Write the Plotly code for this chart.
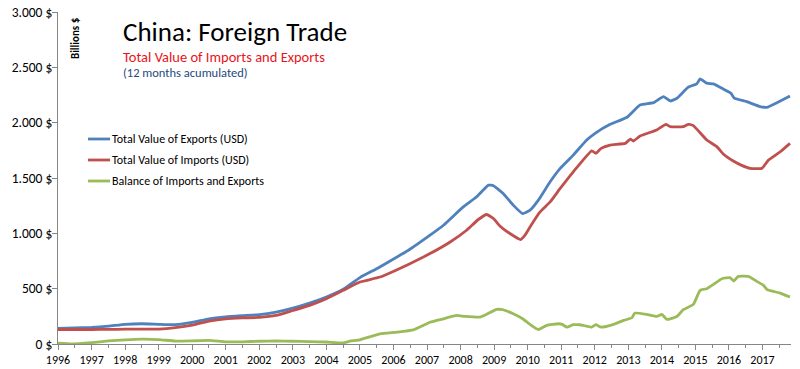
import plotly.graph_objects as go

# ---- data (billions USD, 12-month accumulated), x in decimal years ----
exp_t = [1996.0, 1996.5, 1997.0, 1997.5, 1998.0, 1998.5, 1999.0, 1999.5, 2000.0, 2000.5,
         2001.0, 2001.5, 2002.0, 2002.5, 2003.0, 2003.5, 2004.0, 2004.5, 2005.0, 2005.5,
         2005.85, 2006.49, 2007.09, 2007.49, 2008.08, 2008.48, 2008.83, 2008.98, 2009.27,
         2009.57, 2009.85, 2010.07, 2010.32, 2010.67, 2010.97, 2011.36, 2011.76, 2012.01,
         2012.46, 2012.96, 2013.35, 2013.75, 2014.05, 2014.25, 2014.45, 2014.79, 2015.04,
         2015.14, 2015.34, 2015.54, 2015.84, 2016.06, 2016.16, 2016.53, 2016.93, 2017.13,
         2017.43, 2017.82]
exports = [142, 145, 150, 161, 178, 183, 178, 175, 195, 228,
           246, 256, 265, 288, 324, 370, 424, 494, 600, 680,
           741, 856, 983, 1073, 1239, 1330, 1436, 1430, 1360,
           1255, 1179, 1209, 1300, 1466, 1587, 1707, 1843, 1904,
           1985, 2049, 2160, 2181, 2236, 2196, 2221, 2321, 2350,
           2396, 2357, 2350, 2302, 2266, 2221, 2190, 2145, 2139,
           2181, 2242]

imp_t = [1996.0, 1996.5, 1997.0, 1997.5, 1998.0, 1998.5, 1999.0, 1999.5, 2000.0, 2000.5,
         2001.0, 2001.5, 2002.0, 2002.5, 2003.0, 2003.5, 2004.0, 2004.5, 2005.0, 2005.6,
         2006.49, 2007.09, 2007.69, 2008.18, 2008.53, 2008.78, 2008.98, 2009.18, 2009.47,
         2009.79, 2009.92, 2010.07, 2010.37, 2010.67, 2010.97, 2011.36, 2011.91, 2012.03,
         2012.19, 2012.46, 2012.91, 2013.06, 2013.15, 2013.35, 2013.85, 2014.12, 2014.25,
         2014.64, 2014.79, 2014.94, 2015.34, 2015.64, 2015.84, 2016.13, 2016.38, 2016.63,
         2016.98, 2017.18, 2017.53, 2017.82]
imports = [131, 131, 131, 132, 134, 134, 134, 147, 170, 207,
           228, 236, 240, 258, 303, 349, 409, 485, 560, 605,
           726, 817, 922, 1028, 1125, 1170, 1134, 1064, 998,
           944, 983, 1058, 1194, 1284, 1406, 1556, 1746, 1723,
           1768, 1798, 1813, 1852, 1834, 1880, 1934, 1985, 1964,
           1964, 1985, 1973, 1843, 1783, 1714, 1653, 1614, 1587,
           1587, 1662, 1737, 1813]

bal_t = [1996.0, 1996.4, 1997.0, 1997.5, 1998.0, 1998.5, 1999.0, 1999.5, 2000.0, 2000.5,
         2001.0, 2001.5, 2002.0, 2002.5, 2003.0, 2003.5, 2004.0, 2004.5, 2004.7, 2005.0,
         2005.6, 2006.1, 2006.59, 2007.09, 2007.49, 2007.88, 2008.13, 2008.58, 2008.75,
         2009.08, 2009.25, 2009.57, 2009.85, 2010.07, 2010.32, 2010.57, 2010.92, 2011.03,
         2011.17, 2011.36, 2011.56, 2011.66, 2011.91, 2012.03, 2012.19, 2012.56, 2012.86,
         2013.11, 2013.19, 2013.55, 2013.85, 2014.0, 2014.15, 2014.45, 2014.64, 2014.94,
         2015.14, 2015.34, 2015.54, 2015.79, 2016.04, 2016.14, 2016.28, 2016.58, 2016.83,
         2017.03, 2017.14, 2017.53, 2017.82]
balance = [7, 0, 12, 28, 38, 44, 40, 26, 28, 32,
           20, 20, 25, 28, 25, 22, 18, 10, 25, 38,
           92, 107, 128, 197, 228, 258, 249, 243, 264,
           312, 310, 273, 228, 177, 131, 168, 183, 177,
           152, 174, 174, 168, 152, 174, 152, 177, 213,
           237, 279, 267, 249, 267, 222, 249, 310, 358,
           485, 500, 539, 590, 599, 569, 611, 611, 566,
           530, 491, 460, 424]

names = ["Total Value of Exports (USD)", "Total Value of Imports (USD)",
         "Balance of Imports and Exports"]
colors = ["#4F81BD", "#C0504D", "#9BBB59"]

y_tickvals = [0, 500, 1000, 1500, 2000, 2500, 3000]
y_ticktext = ["0 $", "500 $", "1.000 $", "1.500 $", "2.000 $", "2.500 $", "3.000 $"]
x_tickvals = list(range(1996, 2018))

FONT = "Carlito, Calibri, Lato, sans-serif"

# page body has an 8px margin: figure placed at (8, 8) on screen
OFF = 8
W, H = 800 - OFF, 369 - OFF
PL, PR, PT, PB = 58, 791, 12, 344          # plot area in screen pixels
ML, MT = PL - OFF, PT - OFF
MR, MB = W - (PR - OFF), H - (PB - OFF)


def px(x):
    return (x - PL) / (PR - PL)


def py(y):
    return (PB - y) / (PB - PT)


fig = go.Figure()
for t, v, n, c in zip([exp_t, imp_t, bal_t], [exports, imports, balance], names, colors):
    fig.add_trace(go.Scatter(x=t, y=v, mode="lines", name=n, showlegend=False,
                             line=dict(color=c, width=2.8, shape="spline", smoothing=0.4)))

fig.update_layout(
    width=W, height=H,
    margin=dict(l=ML, r=MR, t=MT, b=MB, pad=0),
    plot_bgcolor="white", paper_bgcolor="white",
    font=dict(family=FONT, color="#000000"),
    showlegend=False,
)
fig.update_xaxes(range=[1996, 2017.85], tickmode="array", tickvals=x_tickvals,
                 ticktext=[str(y) for y in x_tickvals],
                 showgrid=False, zeroline=False, showline=True, linecolor="#868686",
                 linewidth=1, ticks="outside", ticklen=5, tickcolor="#868686",
                 tickfont=dict(size=12, family=FONT), automargin=False,
                 ticklabeloverflow="allow",
                 minor=dict(ticks="outside", tick0=1996.5, dtick=1, ticklen=3,
                            tickcolor="#868686", showgrid=False))
fig.update_yaxes(range=[0, 3000], tickmode="array", tickvals=y_tickvals, ticktext=y_ticktext,
                 showgrid=False, zeroline=False, showline=True, linecolor="#868686",
                 linewidth=1, ticks="outside", ticklen=5, tickcolor="#868686",
                 tickfont=dict(size=13.5, family=FONT), automargin=False,
                 ticklabelstandoff=-3, ticklabeloverflow="allow")

# legend drawn by hand (short line samples as in the reference)
leg_y = [139, 160, 181]
for n, c, yy in zip(names, colors, leg_y):
    fig.add_shape(type="line", xref="paper", yref="paper", x0=px(88), x1=px(110),
                  y0=py(yy), y1=py(yy), line=dict(color=c, width=2.8))
    fig.add_annotation(xref="paper", yref="paper", x=px(110), y=py(yy),
                       xanchor="left", yanchor="middle", showarrow=False,
                       text=n, font=dict(size=12, family=FONT, color="#000"))

fig.add_annotation(xref="paper", yref="paper", x=px(121), y=py(32),
                   xanchor="left", yanchor="middle", showarrow=False,
                   text="China: Foreign Trade", font=dict(size=27, family=FONT, color="#000"))
fig.add_annotation(xref="paper", yref="paper", x=px(121), y=py(57),
                   xanchor="left", yanchor="middle", showarrow=False,
                   text="Total Value of Imports and Exports",
                   font=dict(size=14.5, family=FONT, color="#E8141B"))
fig.add_annotation(xref="paper", yref="paper", x=px(121), y=py(73),
                   xanchor="left", yanchor="middle", showarrow=False,
                   text="(12 months acumulated)",
                   font=dict(size=12.5, family=FONT, color="#1F497D"))
fig.add_annotation(xref="paper", yref="paper", x=px(76), y=py(38),
                   xanchor="center", yanchor="middle", showarrow=False, textangle=-90,
                   text="<b>Billions $</b>", font=dict(size=11, family=FONT, color="#000"))

fig.write_html("out.html")
